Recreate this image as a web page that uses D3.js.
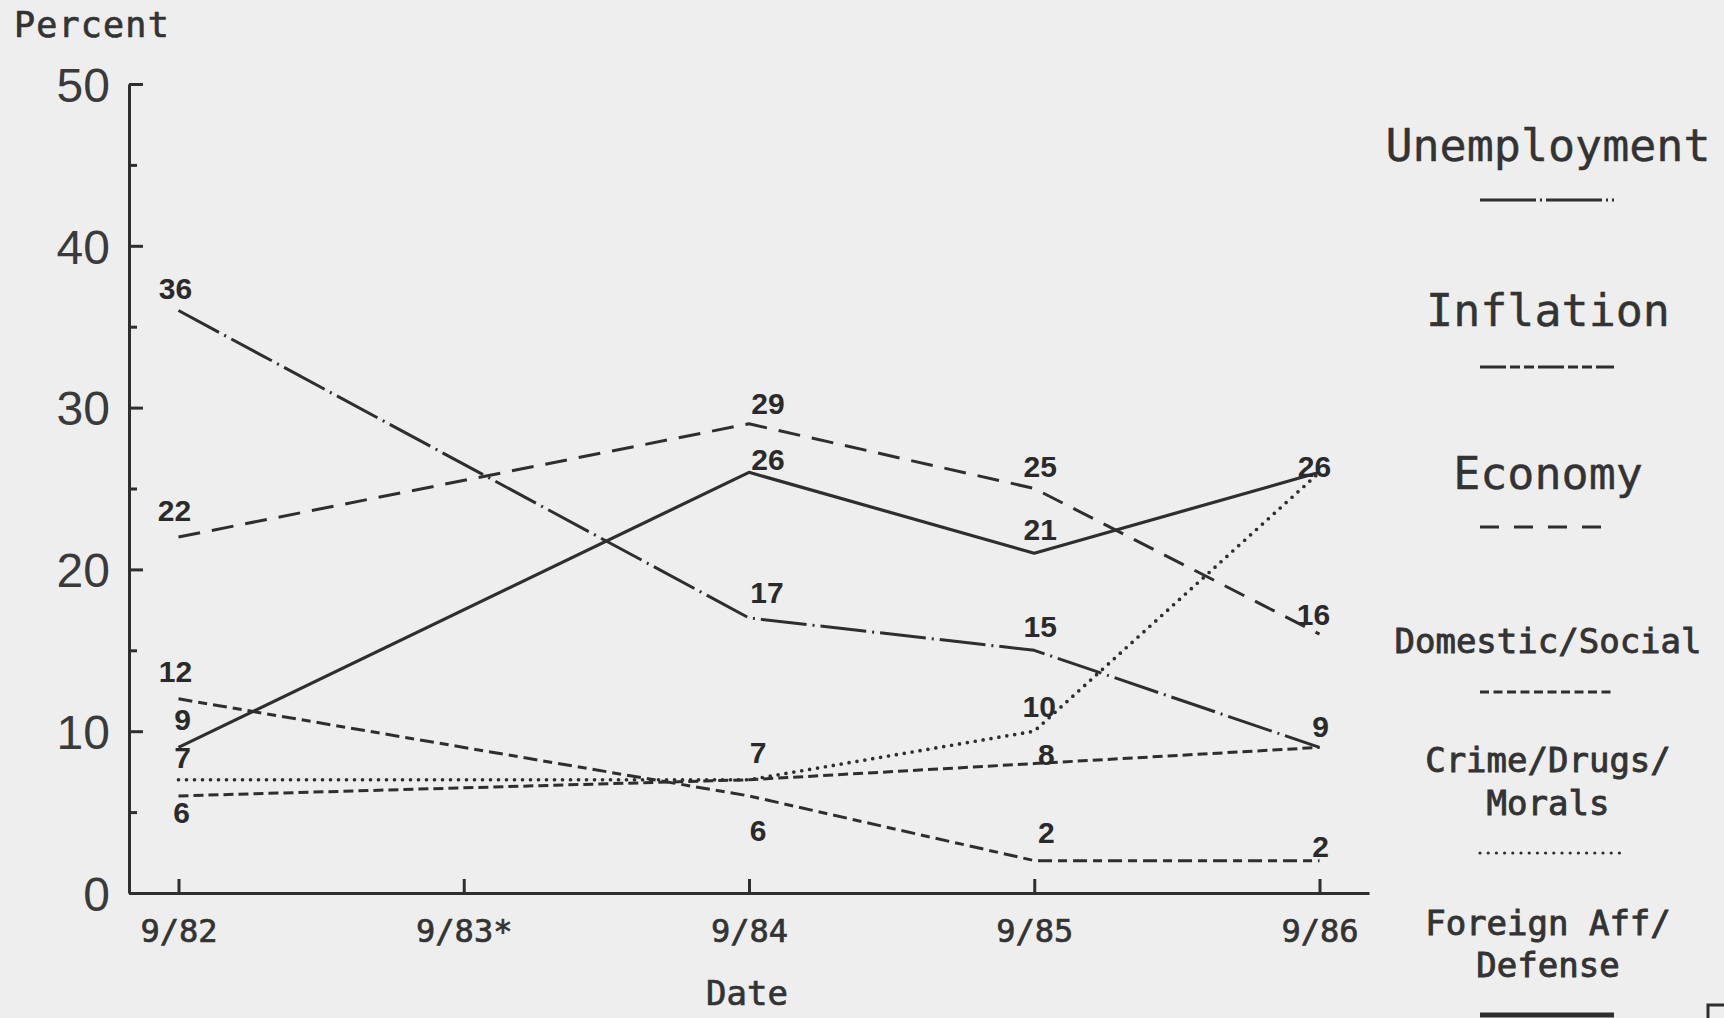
<!DOCTYPE html>
<html>
<head>
<meta charset="utf-8">
<script src="https://cdn.jsdelivr.net/npm/d3@7"></script>
<style>
  html, body { margin: 0; padding: 0; background: #eeeeee; }
  svg { display: block; }
</style>
</head>
<body>
<svg id="chart" width="1724" height="1018"></svg>
<script>
// ---------------- DATA ----------------
const dates = ["9/82", "9/83*", "9/84", "9/85", "9/86"];
const unemployment = [36, null, 17, 15, 9];
const inflation    = [12, null, 6, 2, 2];
const economy      = [22, null, 29, 25, 16];
const domestic     = [6, null, 7, 8, 9];
const crime        = [7, null, 7, 10, 26];
const foreign      = [9, null, 26, 21, 26];
const yMajorTicks = [0, 10, 20, 30, 40, 50];
const yMinorTicks = [5, 15, 25, 35, 45];
const legendNames = ["Unemployment", "Inflation", "Economy",
                     ["Domestic/Social"], ["Crime/Drugs/", "Morals"], ["Foreign Aff/", "Defense"]];

// ---------------- LAYOUT / STYLE ----------------
const ink = "#2e2e2e";
const svg = d3.select("#chart");

const x = d3.scalePoint().domain(dates).range([129, 1369]).padding(0.1735);
const y = d3.scaleLinear().domain([0, 50]).range([893, 84]);

const series = [
  { key: "unemployment", values: unemployment, dash: "46,6,2,6", width: 3, cap: "butt",
    legendDash: "56,4,2,4", legendWidth: 3 },
  { key: "inflation", values: inflation, dash: "14,6,9,6", width: 3, cap: "butt",
    legendDash: "26,4,10,4,10,4", legendWidth: 3 },
  { key: "economy", values: economy, dash: "22,12", width: 3, cap: "butt",
    legendDash: "19,15", legendWidth: 3 },
  { key: "domestic", values: domestic, dash: "10,5", width: 3, cap: "butt",
    legendDash: "9,4.5", legendWidth: 2.8 },
  { key: "crime", values: crime, dash: "0,8", width: 3.7, cap: "round",
    legendDash: "0,8.2", legendWidth: 3.2 },
  { key: "foreign", values: foreign, dash: null, width: 3.2, cap: "butt",
    legendDash: null, legendWidth: 5 }
];

// label placement offsets (relative to the point): [seriesKey, index, dx, dy]
const labelLayout = [
  ["unemployment", 0, -3, -12], ["unemployment", 2, 18, -15], ["unemployment", 3, 6, -13], ["unemployment", 4, 1, -10],
  ["inflation", 0, -3, -17], ["inflation", 2, 9, 45], ["inflation", 3, 12, -18], ["inflation", 4, 1, -4],
  ["economy", 0, -4, -16], ["economy", 2, 19, -10], ["economy", 3, 6, -12], ["economy", 4, -6, -9],
  ["domestic", 0, 3, 27], ["domestic", 3, 12, 1],
  ["crime", 0, 4, -12], ["crime", 2, 9, -17], ["crime", 3, 5, -14],
  ["foreign", 0, 4, -17], ["foreign", 2, 19, -2], ["foreign", 3, 6, -13], ["foreign", 4, -5, 5]
];

// ---------------- AXES ----------------
const yAxis = d3.axisLeft(y).tickValues(yMajorTicks).tickSizeInner(-14).tickSizeOuter(0).tickPadding(19)
  .tickFormat(d3.format("d"));
const gy = svg.append("g").attr("transform", "translate(129,0)").call(yAxis);
gy.select(".domain").attr("stroke", ink).attr("stroke-width", 3);
gy.selectAll(".tick line").attr("stroke", ink).attr("stroke-width", 3);
gy.selectAll(".tick text").attr("fill", "#3a3a3a")
  .style("font-family", "'Liberation Sans', Arial, sans-serif").style("font-size", "48px")
  .attr("dy", "0.36em");

const yMinor = d3.axisLeft(y).tickValues(yMinorTicks).tickSizeInner(-8).tickSizeOuter(0).tickFormat("");
const gym = svg.append("g").attr("transform", "translate(129,0)").call(yMinor);
gym.select(".domain").remove();
gym.selectAll(".tick line").attr("stroke", ink).attr("stroke-width", 3);

const xAxis = d3.axisBottom(x).tickSizeInner(-14).tickSizeOuter(0).tickPadding(26);
const gx = svg.append("g").attr("transform", "translate(0,893)").call(xAxis);
gx.select(".domain").attr("stroke", ink).attr("stroke-width", 3);
gx.selectAll(".tick line").attr("stroke", ink).attr("stroke-width", 3);
gx.selectAll(".tick text").attr("fill", "#333")
  .style("font-family", "'DejaVu Sans Mono', monospace").style("font-size", "32px")
  .attr("stroke", "#333").attr("stroke-width", 0.7);

svg.append("text").attr("x", 14).attr("y", 37).text("Percent")
  .attr("fill", "#333").attr("stroke", "#333").attr("stroke-width", 0.7)
  .style("font-family", "'DejaVu Sans Mono', monospace").style("font-size", "35px")
  .style("letter-spacing", "1.2px");

svg.append("text").attr("x", 747).attr("y", 1005).attr("text-anchor", "middle").text("Date")
  .attr("fill", "#333").attr("stroke", "#333").attr("stroke-width", 0.7)
  .style("font-family", "'DejaVu Sans Mono', monospace").style("font-size", "34px");

// ---------------- LINES ----------------
const line = d3.line().x(d => x(d.date)).y(d => y(d.v));
series.forEach(s => {
  const pts = dates.map((d, i) => ({ date: d, v: s.values[i] })).filter(p => p.v != null);
  svg.append("path").datum(pts)
    .attr("d", line)
    .attr("fill", "none")
    .attr("stroke", ink)
    .attr("stroke-width", s.width)
    .attr("stroke-linecap", s.cap)
    .attr("stroke-linejoin", "round")
    .attr("stroke-dasharray", s.dash);
});

// ---------------- VALUE LABELS ----------------
const byKey = Object.fromEntries(series.map(s => [s.key, s]));
svg.append("g").selectAll("text").data(labelLayout).join("text")
  .attr("x", d => x(dates[d[1]]) + d[2])
  .attr("y", d => y(byKey[d[0]].values[d[1]]) + d[3])
  .attr("text-anchor", "middle")
  .attr("fill", "#2a2a2a")
  .style("font-family", "'Liberation Sans Narrow', 'Liberation Sans', Arial, sans-serif")
  .style("font-weight", "bold")
  .style("font-size", "30px")
  .text(d => byKey[d[0]].values[d[1]]);

// ---------------- LEGEND ----------------
const legendX = 1548;
const legendText = [
  { lines: [161], size: 45 },
  { lines: [326], size: 45 },
  { lines: [489], size: 45 },
  { lines: [653], size: 34 },
  { lines: [772, 815], size: 34 },
  { lines: [935, 977], size: 34 }
];
const legendLineY = [200, 367, 527, 692, 853, 1015];
const legendLineX = [[1480, 1614], [1480, 1614], [1480, 1612], [1480, 1614], [1480, 1620], [1480, 1614]];

series.forEach((s, i) => {
  const names = Array.isArray(legendNames[i]) ? legendNames[i] : [legendNames[i]];
  names.forEach((nm, j) => {
    svg.append("text").attr("x", legendX).attr("y", legendText[i].lines[j])
      .attr("text-anchor", "middle").text(nm)
      .attr("fill", "#333").attr("stroke", "#333")
      .attr("stroke-width", legendText[i].size > 40 ? 0.4 : 0.9)
      .style("font-family", "'DejaVu Sans Mono', monospace")
      .style("font-size", legendText[i].size + "px");
  });
  svg.append("line")
    .attr("x1", legendLineX[i][0]).attr("x2", legendLineX[i][1])
    .attr("y1", legendLineY[i]).attr("y2", legendLineY[i])
    .attr("stroke", ink).attr("stroke-width", s.legendWidth)
    .attr("stroke-linecap", s.cap)
    .attr("stroke-dasharray", s.legendDash);
});

// small corner mark at bottom right
svg.append("path").attr("d", "M1708,1018 V1005 H1724").attr("fill", "none")
  .attr("stroke", ink).attr("stroke-width", 3);
</script>
</body>
</html>
